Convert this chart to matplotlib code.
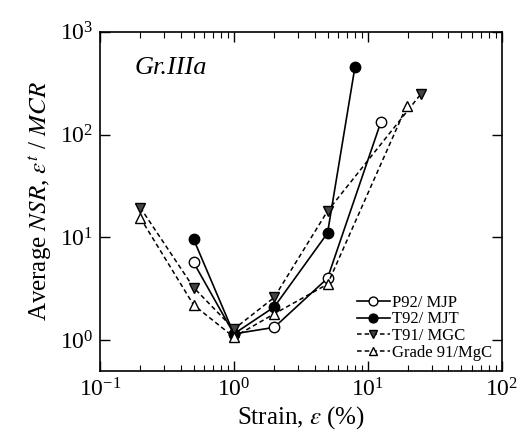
import matplotlib.pyplot as plt
from matplotlib.ticker import LogLocator, NullLocator

plt.rcParams['font.family'] = ['Liberation Serif', 'DejaVu Serif']
plt.rcParams['mathtext.fontset'] = 'stix'

# strain (%) and average NSR for each material
p92_x = [0.5, 1.0, 2.0, 5.0, 12.5]
p92_y = [5.7, 1.15, 1.33, 4.0, 132]
t92_x = [0.5, 1.0, 2.0, 5.0, 8.0]
t92_y = [9.6, 1.15, 2.1, 11, 450]
t91_x = [0.2, 0.5, 1.0, 2.0, 5.0, 25]
t91_y = [19.5, 3.25, 1.28, 2.6, 18, 250]
g91_x = [0.2, 0.5, 1.0, 2.0, 5.0, 19.5]
g91_y = [15.5, 2.2, 1.07, 1.8, 3.5, 190]

fig = plt.figure(figsize=(5.26, 4.36), dpi=100)
ax = fig.add_axes([0.19, 0.149, 0.764, 0.778])

ax.plot(p92_x, p92_y, '-', color='black', lw=1.2, marker='o', ms=7.5,
        mfc='white', mec='black', label='P92/ MJP')
ax.plot(t92_x, t92_y, '-', color='black', lw=1.2, marker='o', ms=7.5,
        mfc='black', mec='black', label='T92/ MJT')
ax.plot(t91_x, t91_y, '--', color='black', lw=1.1, marker='v', ms=7.5,
        mfc='#444444', mec='black', dashes=(3, 2), label='T91/ MGC')
ax.plot(g91_x, g91_y, '--', color='black', lw=1.1, marker='^', ms=7.5,
        mfc='white', mec='black', dashes=(3, 2), label='Grade 91/MgC')

ax.set_xscale('log')
ax.set_yscale('log')
ax.set_xlim(0.1, 100)
ax.set_ylim(0.5, 1000)
ax.yaxis.set_major_locator(LogLocator(base=10, numticks=10))
ax.yaxis.set_minor_locator(NullLocator())

ax.tick_params(which='both', direction='in', top=True, right=True, labelsize=17)
ax.tick_params(which='major', length=7, width=1, pad=5)
ax.tick_params(which='minor', length=4, width=0.8)
for s in ax.spines.values():
    s.set_linewidth(1.2)

ax.set_xlabel(r'Strain, $\varepsilon$ (%)', fontsize=18, labelpad=2)
ax.set_ylabel(r'Average $\it{NSR}$, $\varepsilon^{t}$ / $\it{MCR}$', fontsize=18, labelpad=4)
ax.text(0.087, 0.875, 'Gr.IIIa', transform=ax.transAxes, fontsize=19, style='italic')

ax.legend(loc='lower right', frameon=False, fontsize=12, handlelength=2.0,
          handletextpad=0.1, labelspacing=0.05, borderaxespad=0.2, markerscale=0.85)

fig.savefig('out.png', dpi=100)
